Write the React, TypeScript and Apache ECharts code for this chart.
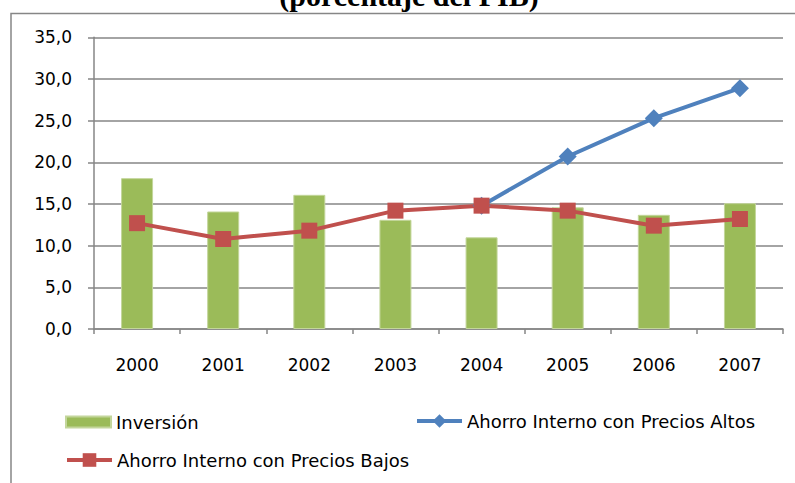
import React, { useEffect, useRef } from "react";
import * as echarts from "echarts";

const years = ["2000", "2001", "2002", "2003", "2004", "2005", "2006", "2007"];
const inversion = [18.1, 14.1, 16.1, 13.1, 11.0, 14.6, 13.7, 15.1];
const preciosAltos = [null, null, null, null, 14.8, 20.7, 25.3, 28.9];
const preciosBajos = [12.7, 10.8, 11.8, 14.2, 14.8, 14.2, 12.4, 13.2];
const titleText = "(porcentaje del PIB)";
const seriesNames = [
  "Inversión",
  "Ahorro Interno con Precios Altos",
  "Ahorro Interno con Precios Bajos",
];

const FONT = "'DejaVu Sans', sans-serif";
const GRAY = "#868686";

export default function App() {
  const ref = useRef<HTMLDivElement>(null);
  useEffect(() => {
    if (!ref.current) return;
    const chart = echarts.init(ref.current, undefined, { renderer: "svg" });
    const legendCommon = {
      orient: "horizontal" as const,
      padding: 0,
      itemWidth: 45,
      itemGap: 5,
      textStyle: { fontFamily: FONT, fontSize: 18, color: "#000" },
      selectedMode: false,
    };
    chart.setOption({
      animation: false,
      backgroundColor: "#fff",
      graphic: [
        {
          type: "rect",
          shape: { x: 11, y: 13.5, width: 800, height: 500 },
          style: { fill: "none", stroke: GRAY, lineWidth: 1.5 },
          silent: true,
        },
        {
          type: "text",
          x: 409,
          y: -5,
          style: {
            text: titleText,
            fontFamily: "'Liberation Serif', 'Times New Roman', serif",
            fontWeight: "bold",
            fontSize: 30,
            fill: "#000",
            align: "center",
            verticalAlign: "middle",
          },
          silent: true,
        },
      ],
      legend: [
        {
          ...legendCommon,
          left: 65,
          top: 413,
          itemHeight: 11,
          data: [{ name: seriesNames[0], icon: "rect" }],
        },
        {
          ...legendCommon,
          left: 415,
          top: 412,
          itemHeight: 17,
          lineStyle: { width: 4 },
          data: [seriesNames[1]],
        },
        {
          ...legendCommon,
          left: 65,
          top: 451,
          itemHeight: 17,
          lineStyle: { width: 4 },
          data: [seriesNames[2]],
        },
      ],
      grid: { left: 94, right: 12, top: 37.3, bottom: 154, containLabel: false },
      xAxis: {
        type: "category",
        data: years,
        boundaryGap: true,
        axisLine: { lineStyle: { color: GRAY, width: 1.5 } },
        axisTick: { show: true, length: 5, lineStyle: { color: GRAY, width: 1.5 } },
        axisLabel: { color: "#000", fontFamily: FONT, fontSize: 17, margin: 27 },
        splitLine: { show: false },
      },
      yAxis: {
        type: "value",
        min: 0,
        max: 35,
        interval: 5,
        axisLine: { show: true, lineStyle: { color: GRAY, width: 1.5 } },
        axisTick: { show: true, length: 6, lineStyle: { color: GRAY, width: 1.5 } },
        axisLabel: {
          color: "#000",
          fontFamily: FONT,
          fontSize: 17,
          margin: 22,
          formatter: (v: number) => v.toFixed(1).replace(".", ","),
        },
        splitLine: { show: true, lineStyle: { color: GRAY, width: 1.5 } },
      },
      series: [
        {
          name: seriesNames[0],
          type: "bar",
          data: inversion,
          barWidth: 32,
          itemStyle: { color: "#9BBB59", borderColor: "#C3D69B", borderWidth: 1 },
        },
        {
          name: seriesNames[1],
          type: "line",
          data: preciosAltos,
          symbol: "diamond",
          symbolSize: 18,
          lineStyle: { color: "#4F81BD", width: 4 },
          itemStyle: { color: "#4F81BD" },
          connectNulls: false,
        },
        {
          name: seriesNames[2],
          type: "line",
          data: preciosBajos,
          symbol: "rect",
          symbolSize: 16,
          lineStyle: { color: "#C0504D", width: 4 },
          itemStyle: { color: "#C0504D" },
        },
      ],
    });
    return () => chart.dispose();
  }, []);
  return (
    <div
      ref={ref}
      style={{ position: "fixed", left: 0, top: 0, width: 795, height: 483 }}
    />
  );
}
